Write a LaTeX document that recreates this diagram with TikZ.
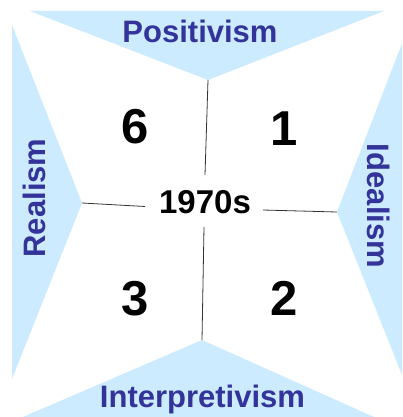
\documentclass[tikz,border=0pt]{standalone}
\usepackage{fontspec}
\setmainfont{Liberation Sans}
\begin{document}
\begin{tikzpicture}[x=1pt,y=-1pt,
  wedge/.style={fill=wedgeblue,draw=none},
  lbl/.style={font=\fontsize{31}{31}\bfseries\selectfont,text=labelblue,inner sep=0pt,anchor=base},
  num/.style={font=\fontsize{49}{49}\bfseries\selectfont,text=black,inner sep=0pt,anchor=base},
  link/.style={draw=linegray,line width=0.8pt}]
\definecolor{wedgeblue}{HTML}{CCEBFF}
\definecolor{labelblue}{HTML}{333399}
\definecolor{linegray}{HTML}{333333}
\useasboundingbox (0,0) rectangle (402,417);
\fill[white] (0,0) rectangle (402,417);
% apexes
\coordinate (topapex) at (208,80);
\coordinate (leftapex) at (82,203);
\coordinate (rightapex) at (337,212);
\coordinate (botapex) at (202,340);
% wedges
\begin{scope}
\clip (0,0) rectangle (402,417);
\fill[wedge] (30,11) -- (topapex) -- (384,11) -- cycle;
\fill[wedge] (12,25) -- (leftapex) -- (12,379) -- cycle;
\fill[wedge] (411,20) -- (rightapex) -- (412,400) -- cycle;
\fill[wedge] (23,417) -- (botapex) -- (374,417) -- cycle;
\end{scope}
% labels
\node[lbl] (pos) at (200,43) {Positivism};
\node[lbl] (interp) at (202.5,407) {Interpretivism};
\node[lbl,rotate=90] (real) at (45,198) {Realism};
\node[lbl,rotate=-90] (ideal) at (367,206) {Idealism};
\node[font=\fontsize{33}{33}\bfseries\selectfont,inner sep=0pt,anchor=base] (era) at (205,213) {1970s};
\node[num] (n6) at (135.5,143.5) {6};
\node[num] (n1) at (284,145) {1};
\node[num] (n3) at (135.5,315) {3};
\node[num] (n2) at (284.5,315) {2};
% connector ends near the centre label
\coordinate (eratop) at (205,175);
\coordinate (erabot) at (204,227);
\coordinate (eraleft) at (145,206.5);
\coordinate (eraright) at (263,210);
\draw[link] (topapex) -- (eratop);
\draw[link] (erabot) -- (botapex);
\draw[link] (leftapex) -- (eraleft);
\draw[link] (eraright) -- (rightapex);
\end{tikzpicture}
\end{document}
